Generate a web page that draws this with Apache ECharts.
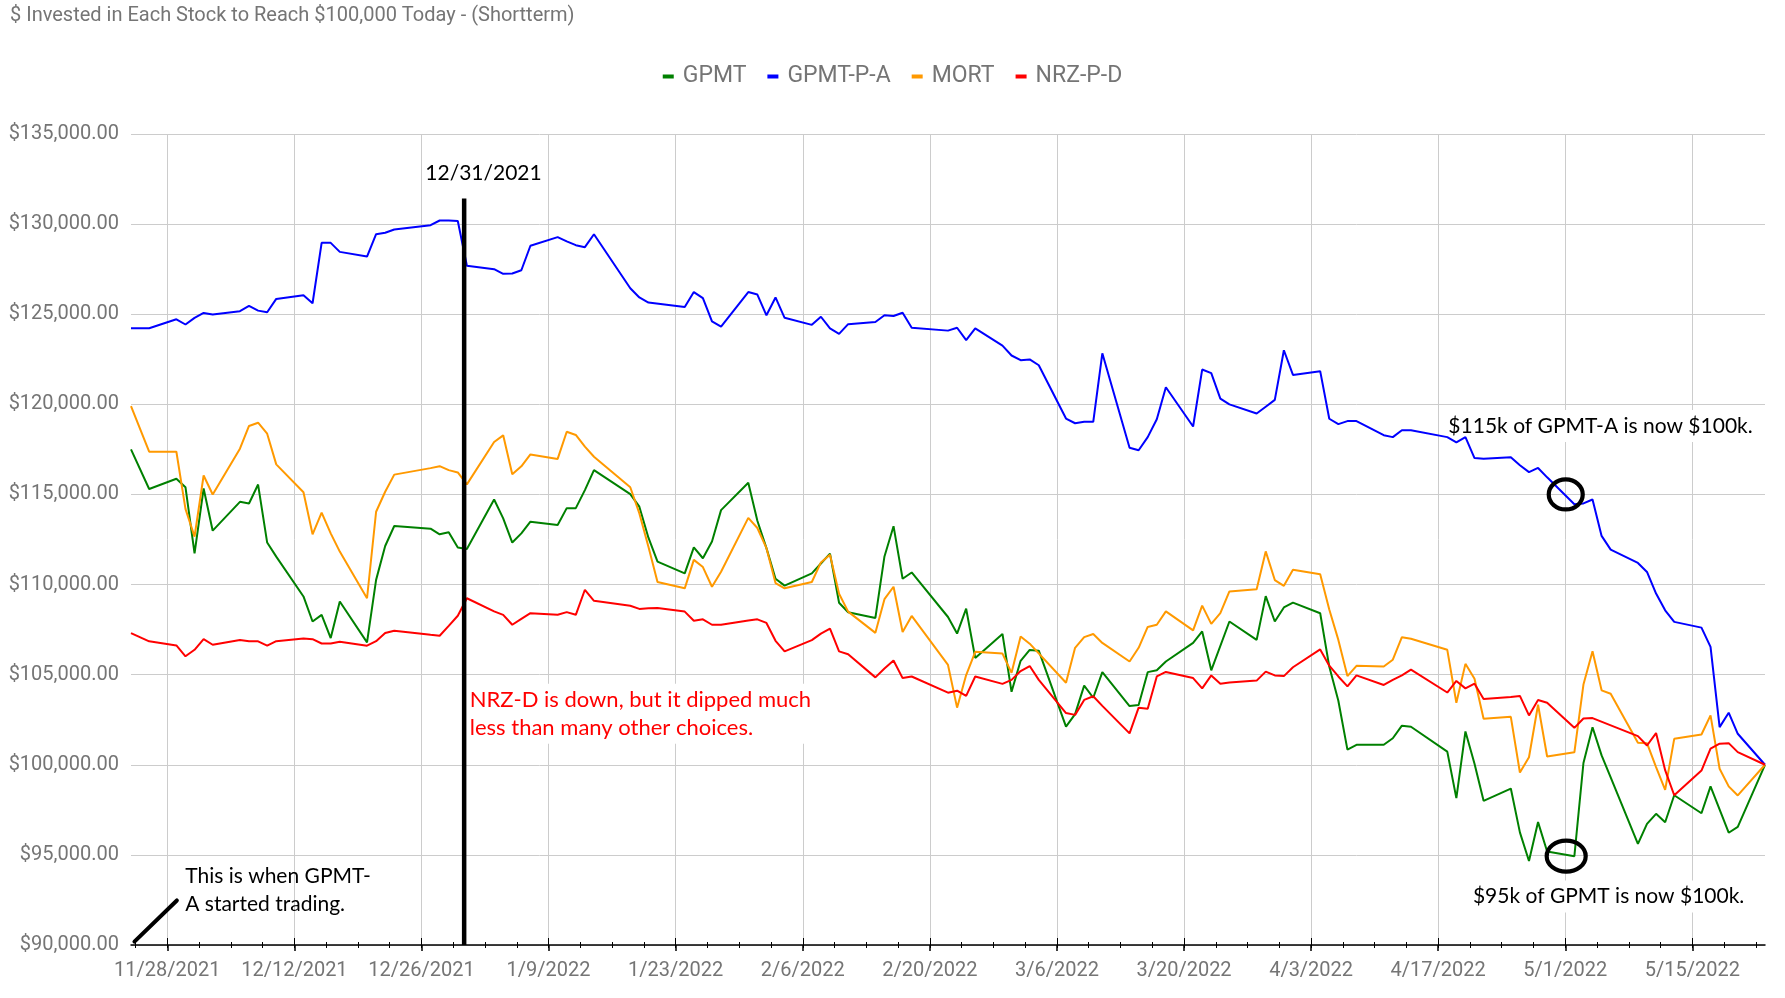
<!DOCTYPE html>
<html>
<head>
<meta charset="utf-8">
<script src="https://cdn.jsdelivr.net/npm/echarts@6/dist/echarts.min.js"></script>
<style>
html,body{margin:0;padding:0;background:#fff;}
#chart{width:1785px;height:998px;}
</style>
</head>
<body>
<div id="chart"></div>
<script>
const TITLE = "$ Invested in Each Stock to Reach $100,000 Today - (Shortterm)";
const seriesNames = ["GPMT", "GPMT-P-A", "MORT", "NRZ-P-D"];
const seriesColors = ["#008000", "#0000ff", "#ff9900", "#ff0000"];

// x-axis tick dates (major labelled ticks)
const majorTickDates = ["2021-11-28","2021-12-12","2021-12-26","2022-01-09","2022-01-23","2022-02-06","2022-02-20","2022-03-06","2022-03-20","2022-04-03","2022-04-17","2022-05-01","2022-05-15"];
const axisStartDate = "2021-11-24";
const axisEndDate = "2022-05-23";
const yTicks = [90000, 95000, 100000, 105000, 110000, 115000, 120000, 125000, 130000, 135000];

const gpmt = [
["2021-11-24",117500],["2021-11-26",115300],["2021-11-29",115870],["2021-11-30",115400],["2021-12-01",111730],["2021-12-02",115330],["2021-12-03",112990],["2021-12-06",114590],["2021-12-07",114500],["2021-12-08",115550],["2021-12-09",112330],["2021-12-10",111550],["2021-12-13",109340],["2021-12-14",107950],["2021-12-15",108320],["2021-12-16",107030],["2021-12-17",109060],["2021-12-20",106790],["2021-12-21",110260],["2021-12-22",112140],["2021-12-23",113250],["2021-12-27",113100],["2021-12-28",112790],["2021-12-29",112900],["2021-12-30",112050],["2021-12-31",111970],
["2022-01-03",114720],["2022-01-04",113670],["2022-01-05",112330],["2022-01-06",112840],["2022-01-07",113490],["2022-01-10",113300],["2022-01-11",114240],["2022-01-12",114240],["2022-01-13",115240],["2022-01-14",116350],["2022-01-18",115020],["2022-01-19",114320],["2022-01-20",112600],["2022-01-21",111270],["2022-01-24",110620],["2022-01-25",112060],["2022-01-26",111460],["2022-01-27",112390],["2022-01-28",114130],["2022-01-31",115650],
["2022-02-01",113540],["2022-02-02",112020],["2022-02-03",110320],["2022-02-04",109940],["2022-02-07",110620],["2022-02-08",111170],["2022-02-09",111720],["2022-02-10",108990],["2022-02-11",108460],["2022-02-14",108150],["2022-02-15",111560],["2022-02-16",113240],["2022-02-17",110320],["2022-02-18",110670],["2022-02-22",108200],["2022-02-23",107280],["2022-02-24",108660],["2022-02-25",105930],["2022-02-28",107260],
["2022-03-01",104050],["2022-03-02",105770],["2022-03-03",106370],["2022-03-04",106330],["2022-03-07",102120],["2022-03-08",102810],["2022-03-09",104390],["2022-03-10",103720],["2022-03-11",105140],["2022-03-14",103260],["2022-03-15",103320],["2022-03-16",105140],["2022-03-17",105240],["2022-03-18",105730],["2022-03-21",106760],["2022-03-22",107400],["2022-03-23",105240],["2022-03-25",107950],["2022-03-28",106930],["2022-03-29",109360],["2022-03-30",107950],["2022-03-31",108730],
["2022-04-01",109000],["2022-04-04",108410],["2022-04-05",105450],["2022-04-06",103550],["2022-04-07",100840],["2022-04-08",101110],["2022-04-11",101110],["2022-04-12",101470],["2022-04-13",102170],["2022-04-14",102110],["2022-04-18",100730],["2022-04-19",98150],["2022-04-20",101850],["2022-04-21",100060],["2022-04-22",98000],["2022-04-25",98680],["2022-04-26",96250],["2022-04-27",94660],["2022-04-28",96820],["2022-04-29",95190],
["2022-05-02",94930],["2022-05-03",100100],["2022-05-04",102080],["2022-05-05",100520],["2022-05-06",99300],["2022-05-09",95610],["2022-05-10",96720],["2022-05-11",97280],["2022-05-12",96810],["2022-05-13",98310],["2022-05-16",97310],["2022-05-17",98800],["2022-05-19",96230],["2022-05-20",96550],["2022-05-23",100000]
];

const gpmtPA = [
["2021-11-24",124220],["2021-11-26",124220],["2021-11-29",124720],["2021-11-30",124430],["2021-12-01",124800],["2021-12-02",125070],["2021-12-03",124980],["2021-12-06",125170],["2021-12-07",125460],["2021-12-08",125200],["2021-12-09",125110],["2021-12-10",125850],["2021-12-13",126050],["2021-12-14",125610],["2021-12-15",128960],["2021-12-16",128960],["2021-12-17",128460],["2021-12-20",128200],["2021-12-21",129440],["2021-12-22",129520],["2021-12-23",129700],["2021-12-27",129940],["2021-12-28",130200],["2021-12-29",130200],["2021-12-30",130170],["2021-12-31",127690],
["2022-01-03",127500],["2022-01-04",127240],["2022-01-05",127260],["2022-01-06",127440],["2022-01-07",128800],["2022-01-10",129280],["2022-01-11",129040],["2022-01-12",128830],["2022-01-13",128720],["2022-01-14",129440],["2022-01-18",126440],["2022-01-19",125930],["2022-01-20",125650],["2022-01-24",125400],["2022-01-25",126230],["2022-01-26",125890],["2022-01-27",124600],["2022-01-28",124310],["2022-01-31",126230],
["2022-02-01",126090],["2022-02-02",124940],["2022-02-03",125930],["2022-02-04",124800],["2022-02-07",124410],["2022-02-08",124860],["2022-02-09",124210],["2022-02-10",123910],["2022-02-11",124450],["2022-02-14",124570],["2022-02-15",124940],["2022-02-16",124900],["2022-02-17",125080],["2022-02-18",124250],["2022-02-22",124090],["2022-02-23",124250],["2022-02-24",123560],["2022-02-25",124210],["2022-02-28",123260],
["2022-03-01",122710],["2022-03-02",122450],["2022-03-03",122490],["2022-03-04",122170],["2022-03-07",119210],["2022-03-08",118950],["2022-03-09",119030],["2022-03-10",119030],["2022-03-11",122830],["2022-03-14",117590],["2022-03-15",117450],["2022-03-16",118180],["2022-03-17",119170],["2022-03-18",120950],["2022-03-21",118770],["2022-03-22",121930],["2022-03-23",121730],["2022-03-24",120320],["2022-03-25",120000],["2022-03-28",119490],["2022-03-29",119870],["2022-03-30",120250],["2022-03-31",123000],
["2022-04-01",121630],["2022-04-04",121840],["2022-04-05",119200],["2022-04-06",118900],["2022-04-07",119070],["2022-04-08",119070],["2022-04-11",118290],["2022-04-12",118180],["2022-04-13",118560],["2022-04-14",118560],["2022-04-18",118180],["2022-04-19",117890],["2022-04-20",118180],["2022-04-21",117020],["2022-04-22",116980],["2022-04-25",117060],["2022-04-26",116620],["2022-04-27",116240],["2022-04-28",116470],["2022-04-29",115950],
["2022-05-02",114460],["2022-05-03",114500],["2022-05-04",114720],["2022-05-05",112700],["2022-05-06",111940],["2022-05-09",111200],["2022-05-10",110700],["2022-05-11",109500],["2022-05-12",108570],["2022-05-13",107930],["2022-05-16",107610],["2022-05-17",106540],["2022-05-18",102090],["2022-05-19",102890],["2022-05-20",101720],["2022-05-23",100000]
];

const mort = [
["2021-11-24",119900],["2021-11-26",117370],["2021-11-29",117370],["2021-11-30",114200],["2021-12-01",112660],["2021-12-02",116050],["2021-12-03",115000],["2021-12-06",117540],["2021-12-07",118800],["2021-12-08",118980],["2021-12-09",118370],["2021-12-10",116670],["2021-12-13",115120],["2021-12-14",112790],["2021-12-15",113990],["2021-12-16",112840],["2021-12-17",111830],["2021-12-20",109240],["2021-12-21",114040],["2021-12-22",115150],["2021-12-23",116100],["2021-12-27",116460],["2021-12-28",116570],["2021-12-29",116350],["2021-12-30",116220],["2021-12-31",115560],
["2022-01-03",117910],["2022-01-04",118280],["2022-01-05",116120],["2022-01-06",116560],["2022-01-07",117220],["2022-01-10",116970],["2022-01-11",118480],["2022-01-12",118300],["2022-01-13",117650],["2022-01-14",117090],["2022-01-18",115400],["2022-01-19",113950],["2022-01-20",112100],["2022-01-21",110140],["2022-01-24",109790],["2022-01-25",111370],["2022-01-26",110970],["2022-01-27",109880],["2022-01-28",110710],["2022-01-31",113700],
["2022-02-01",113140],["2022-02-02",112020],["2022-02-03",110080],["2022-02-04",109790],["2022-02-07",110140],["2022-02-08",111230],["2022-02-09",111660],["2022-02-10",109490],["2022-02-11",108500],["2022-02-14",107320],["2022-02-15",109190],["2022-02-16",109880],["2022-02-17",107370],["2022-02-18",108260],["2022-02-22",105540],["2022-02-23",103170],["2022-02-24",104980],["2022-02-25",106270],["2022-02-28",106170],
["2022-03-01",105100],["2022-03-02",107120],["2022-03-03",106720],["2022-03-07",104550],["2022-03-08",106490],["2022-03-09",107080],["2022-03-10",107260],["2022-03-11",106760],["2022-03-14",105730],["2022-03-15",106490],["2022-03-16",107650],["2022-03-17",107770],["2022-03-18",108510],["2022-03-21",107460],["2022-03-22",108830],["2022-03-23",107820],["2022-03-24",108410],["2022-03-25",109620],["2022-03-28",109740],["2022-03-29",111840],["2022-03-30",110250],["2022-03-31",109930],
["2022-04-01",110820],["2022-04-04",110570],["2022-04-05",108620],["2022-04-06",106930],["2022-04-07",104920],["2022-04-08",105490],["2022-04-11",105450],["2022-04-12",105830],["2022-04-13",107080],["2022-04-14",106990],["2022-04-18",106380],["2022-04-19",103440],["2022-04-20",105600],["2022-04-21",104770],["2022-04-22",102550],["2022-04-25",102660],["2022-04-26",99570],["2022-04-27",100420],["2022-04-28",103330],["2022-04-29",100460],
["2022-05-02",100690],["2022-05-03",104450],["2022-05-04",106300],["2022-05-05",104130],["2022-05-06",103940],["2022-05-09",101220],["2022-05-10",101200],["2022-05-11",99870],["2022-05-12",98610],["2022-05-13",101440],["2022-05-16",101680],["2022-05-17",102740],["2022-05-18",99780],["2022-05-19",98800],["2022-05-20",98300],["2022-05-23",100000]
];

const nrzPD = [
["2021-11-24",107310],["2021-11-26",106850],["2021-11-29",106620],["2021-11-30",106020],["2021-12-01",106380],["2021-12-02",106970],["2021-12-03",106660],["2021-12-06",106920],["2021-12-07",106850],["2021-12-08",106850],["2021-12-09",106610],["2021-12-10",106860],["2021-12-13",107010],["2021-12-14",106970],["2021-12-15",106730],["2021-12-16",106730],["2021-12-17",106830],["2021-12-20",106610],["2021-12-21",106860],["2021-12-22",107310],["2021-12-23",107440],["2021-12-27",107210],["2021-12-28",107160],["2021-12-29",107710],["2021-12-30",108270],["2021-12-31",109240],
["2022-01-03",108510],["2022-01-04",108320],["2022-01-05",107770],["2022-01-06",108100],["2022-01-07",108410],["2022-01-10",108320],["2022-01-11",108470],["2022-01-12",108320],["2022-01-13",109710],["2022-01-14",109100],["2022-01-18",108820],["2022-01-19",108650],["2022-01-20",108690],["2022-01-21",108700],["2022-01-24",108500],["2022-01-25",107990],["2022-01-26",108070],["2022-01-27",107770],["2022-01-28",107770],["2022-01-31",108010],
["2022-02-01",108070],["2022-02-02",107870],["2022-02-03",106880],["2022-02-04",106290],["2022-02-07",106920],["2022-02-08",107280],["2022-02-09",107550],["2022-02-10",106290],["2022-02-11",106130],["2022-02-14",104850],["2022-02-15",105340],["2022-02-16",105790],["2022-02-17",104810],["2022-02-18",104900],["2022-02-22",104000],["2022-02-23",104110],["2022-02-24",103820],["2022-02-25",104900],["2022-02-28",104490],
["2022-03-01",104710],["2022-03-02",105200],["2022-03-03",105480],["2022-03-04",104710],["2022-03-07",102870],["2022-03-08",102770],["2022-03-09",103600],["2022-03-10",103800],["2022-03-11",103270],["2022-03-14",101740],["2022-03-15",103170],["2022-03-16",103110],["2022-03-17",104900],["2022-03-18",105150],["2022-03-21",104810],["2022-03-22",104240],["2022-03-23",104960],["2022-03-24",104500],["2022-03-25",104560],["2022-03-28",104670],["2022-03-29",105170],["2022-03-30",104960],["2022-03-31",104920],
["2022-04-01",105410],["2022-04-04",106400],["2022-04-05",105500],["2022-04-06",104900],["2022-04-07",104350],["2022-04-08",104960],["2022-04-11",104430],["2022-04-12",104710],["2022-04-13",104960],["2022-04-14",105280],["2022-04-18",104010],["2022-04-19",104650],["2022-04-20",104240],["2022-04-21",104500],["2022-04-22",103650],["2022-04-25",103760],["2022-04-26",103820],["2022-04-27",102740],["2022-04-28",103590],["2022-04-29",103440],
["2022-05-02",102050],["2022-05-03",102570],["2022-05-04",102590],["2022-05-09",101590],["2022-05-10",101070],["2022-05-11",101760],["2022-05-12",99700],["2022-05-13",98310],["2022-05-16",99680],["2022-05-17",100890],["2022-05-18",101170],["2022-05-19",101200],["2022-05-20",100700],["2022-05-23",100000]
];

// ---------- helpers ----------
const DAY = 86400000;
const ORIGIN = Date.parse("2021-11-28");
const toDay = s => (Date.parse(s) - ORIGIN) / DAY;
const dayLabel = d => {
  const dt = new Date(ORIGIN + Math.round(d) * DAY);
  return (dt.getUTCMonth() + 1) + "/" + dt.getUTCDate() + "/" + dt.getUTCFullYear();
};
const xMin = toDay(axisStartDate), xMax = toDay(axisEndDate);
const majorTicks = majorTickDates.map(toDay);
const minorTicks = [];
for (let v = majorTicks[0] - 3.5; v <= xMax; v += 3.5) if (v >= xMin) minorTicks.push(v);
const money = v => "$" + v.toLocaleString("en-US", {minimumFractionDigits: 2, maximumFractionDigits: 2});

const allData = [gpmt, gpmtPA, mort, nrzPD];
const GRAY = "#757575";
const FONT = "Roboto";
const NOTE_FONT = "Lato";

const chart = echarts.init(document.getElementById("chart"), null, {renderer: "canvas"});

function xAxisCfg(ticks, inside, len, extra) {
  return Object.assign({
    type: "value", min: xMin, max: xMax, gridIndex: 0, position: "bottom",
    axisLine: {show: false},
    axisTick: {show: true, inside: inside, length: len, customValues: ticks, lineStyle: {color: "#000", width: 1}},
    axisLabel: {show: false},
    splitLine: {show: false}
  }, extra || {});
}

const option = {
  animation: false,
  backgroundColor: "#ffffff",
  title: {
    text: TITLE, left: 10, top: 6, padding: 0,
    textStyle: {fontFamily: FONT, fontSize: 20, fontWeight: "normal", color: GRAY}
  },
  legend: {
    top: 65, left: "center", padding: 0,
    icon: "rect", itemWidth: 11, itemHeight: 4, itemGap: 21,
    textStyle: {fontFamily: FONT, fontSize: 23, color: GRAY, padding: [0, 0, 0, 4]},
    data: seriesNames
  },
  grid: {left: 131, right: 20, top: 134, bottom: 53},
  xAxis: [
    {
      type: "value", min: xMin, max: xMax, position: "bottom",
      axisLine: {show: true, onZero: false, lineStyle: {color: "#000", width: 1.5}},
      axisTick: {show: true, length: 6, customValues: majorTicks, lineStyle: {color: "#000", width: 1.5}},
      axisLabel: {show: true, customValues: majorTicks, formatter: dayLabel, margin: 16,
        fontFamily: FONT, fontSize: 20, color: GRAY},
      splitLine: {show: true, lineStyle: {color: "#cccccc", width: 1}}
    },
    xAxisCfg(majorTicks, true, 7),
    xAxisCfg(minorTicks, false, 3),
    xAxisCfg(minorTicks, true, 3)
  ],
  yAxis: {
    type: "value", min: yTicks[0], max: yTicks[yTicks.length - 1], interval: yTicks[1] - yTicks[0],
    axisLine: {show: false}, axisTick: {show: false},
    axisLabel: {formatter: money, fontFamily: FONT, fontSize: 20, color: GRAY, margin: 12},
    splitLine: {show: true, lineStyle: {color: "#cccccc", width: 1}}
  },
  series: seriesNames.map((name, i) => ({
    name: name, type: "line", xAxisIndex: 0, z: 3,
    color: seriesColors[i],
    showSymbol: false, symbol: "none",
    lineStyle: {width: 2, color: seriesColors[i]},
    data: allData[i].map(p => [toDay(p[0]), p[1]])
  }))
};
chart.setOption(option);

// ---------- annotations (anchored to data coordinates) ----------
const P = (day, val) => chart.convertToPixel({xAxisIndex: 0, yAxisIndex: 0}, [day, val]);
const noteStyle = (txt, color, size, extra) => Object.assign({
  text: txt, fill: color, font: size + "px " + NOTE_FONT, lineHeight: 28,
  backgroundColor: "#ffffff", padding: [2, 2, 2, 2]
}, extra || {});

const vTop = P(32.7, 131420), vBot = P(32.7, 90000);
const tag = P(28.2, 132800);
const nrzNote = P(33.1, 104500);
const startNote = P(1.75, 94720);
const paNote = P(140.9, 118800);
const gNote = P(143.6, 92690);
const c1 = P(toDay("2022-05-01") + 0.05, 115000);
const c2 = P(toDay("2022-05-01") + 0.1, 94930);
const d1 = P(-3.62, 90190), d2 = P(1.05, 92470);

chart.setOption({
  graphic: [
    {type: "text", z: 1, x: nrzNote[0], y: nrzNote[1], style: noteStyle("NRZ-D is down, but it dipped much\nless than many other choices.", "#ff0000", 22, {verticalAlign: "top"})},
    {type: "text", z: 1, x: startNote[0], y: startNote[1], style: noteStyle("This is when GPMT-\nA started trading.", "#000", 21, {verticalAlign: "top", backgroundColor: null})},
    {type: "text", z: 1, x: paNote[0], y: paNote[1], style: noteStyle("$115k of GPMT-A is now $100k.", "#000", 21, {verticalAlign: "middle"})},
    {type: "text", z: 1, x: gNote[0], y: gNote[1], style: noteStyle("$95k of GPMT is now $100k.", "#000", 21, {verticalAlign: "middle"})},
    {type: "text", z: 100, x: tag[0], y: tag[1], style: noteStyle("12/31/2021", "#000", 21, {verticalAlign: "middle", backgroundColor: null})},
    {type: "line", z: 100, shape: {x1: vTop[0], y1: vTop[1], x2: vBot[0], y2: vBot[1]}, style: {stroke: "#000", lineWidth: 4.5}},
    {type: "ellipse", z: 100, shape: {cx: c1[0], cy: c1[1], rx: 17, ry: 15}, style: {fill: null, stroke: "#000", lineWidth: 4.2}},
    {type: "ellipse", z: 100, shape: {cx: c2[0], cy: c2[1], rx: 19.5, ry: 15.5}, style: {fill: null, stroke: "#000", lineWidth: 4.2}},
    {type: "line", z: 100, shape: {x1: d1[0], y1: d1[1], x2: d2[0], y2: d2[1]}, style: {stroke: "#000", lineWidth: 4, lineCap: "round"}}
  ]
});
</script>
</body>
</html>
